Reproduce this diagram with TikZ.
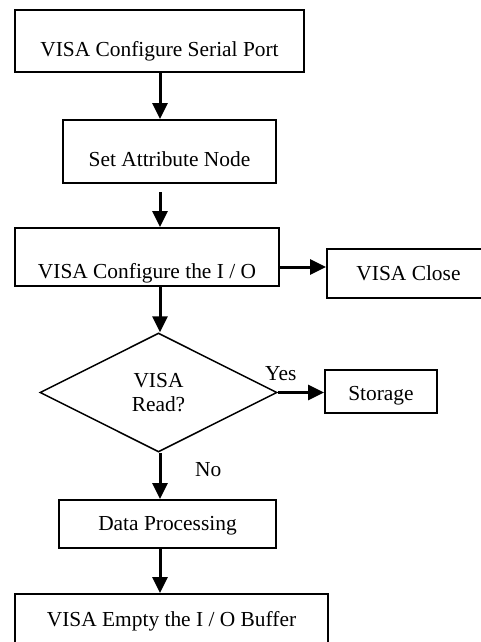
\documentclass[tikz,border=0pt]{standalone}
\usepackage{fontspec}
\setmainfont{Liberation Serif}
\usetikzlibrary{shapes.geometric,arrows.meta}
\begin{document}
\begin{tikzpicture}[x=1pt,y=-1pt,
  every node/.style={font=\fontsize{21.4}{24.4}\selectfont},
  box/.style={draw,line width=2pt,rectangle,inner sep=0pt,text depth=0pt,align=center},
  decision/.style={draw,line width=1.5pt,diamond,inner sep=0pt,minimum width=237pt,minimum height=119pt,align=center},
  arr/.style={line width=3pt,-{Triangle[length=16pt,width=15pt]}},
  lbl/.style={anchor=base west,inner sep=0pt}]
\useasboundingbox (0,0) rectangle (481,642);
\clip (0,0) rectangle (481,642);
\coordinate (spine) at (160,0);
\coordinate (hy) at (0,267);
\node[box,minimum width=289pt,minimum height=62pt,text height=31.4pt] (b1) at (159.5,41) {VISA Configure Serial Port};
\node[box,minimum width=213pt,minimum height=63pt,text height=30.4pt] (b2) at (169.5,151.5) {Set Attribute Node};
\node[box,minimum width=264pt,minimum height=58pt,text height=42.6pt] (b3) at (147,257) {VISA Configure the I / O};
\node[box,minimum width=163pt,minimum height=49pt,text height=13pt] (close) at (408.5,273.5) {VISA Close};
\node[decision] (dia) at (158.5,392.5) {VISA\\Read?};
\node[box,minimum width=112pt,minimum height=43pt,text height=17pt] (stor) at (381,391.5) {Storage};
\node[box,minimum width=217pt,minimum height=48pt,text height=12pt] (data) at (167.5,524) {Data Processing};
\node[box,minimum width=313pt,minimum height=56pt,text height=9.4pt] (fin) at (171.5,622) {VISA Empty the I / O Buffer};
\node[lbl] (yes) at (265,380.7) {Yes};
\node[lbl] (no) at (195,476.7) {No};
\draw[arr] (b1.south -| spine) -- (b2.north -| spine);
\draw[arr,shorten <=8pt] (b2.south -| spine) -- (b3.north -| spine);
\draw[arr] (b3.east |- hy) -- (close.west |- hy);
\draw[arr] (b3.south -| spine) -- (dia.north -| spine);
\draw[arr] (dia.east) -- (stor.west |- dia.east);
\draw[arr] (dia.south -| spine) -- (data.north -| spine);
\draw[arr] (data.south -| spine) -- (fin.north -| spine);
\end{tikzpicture}
\end{document}
